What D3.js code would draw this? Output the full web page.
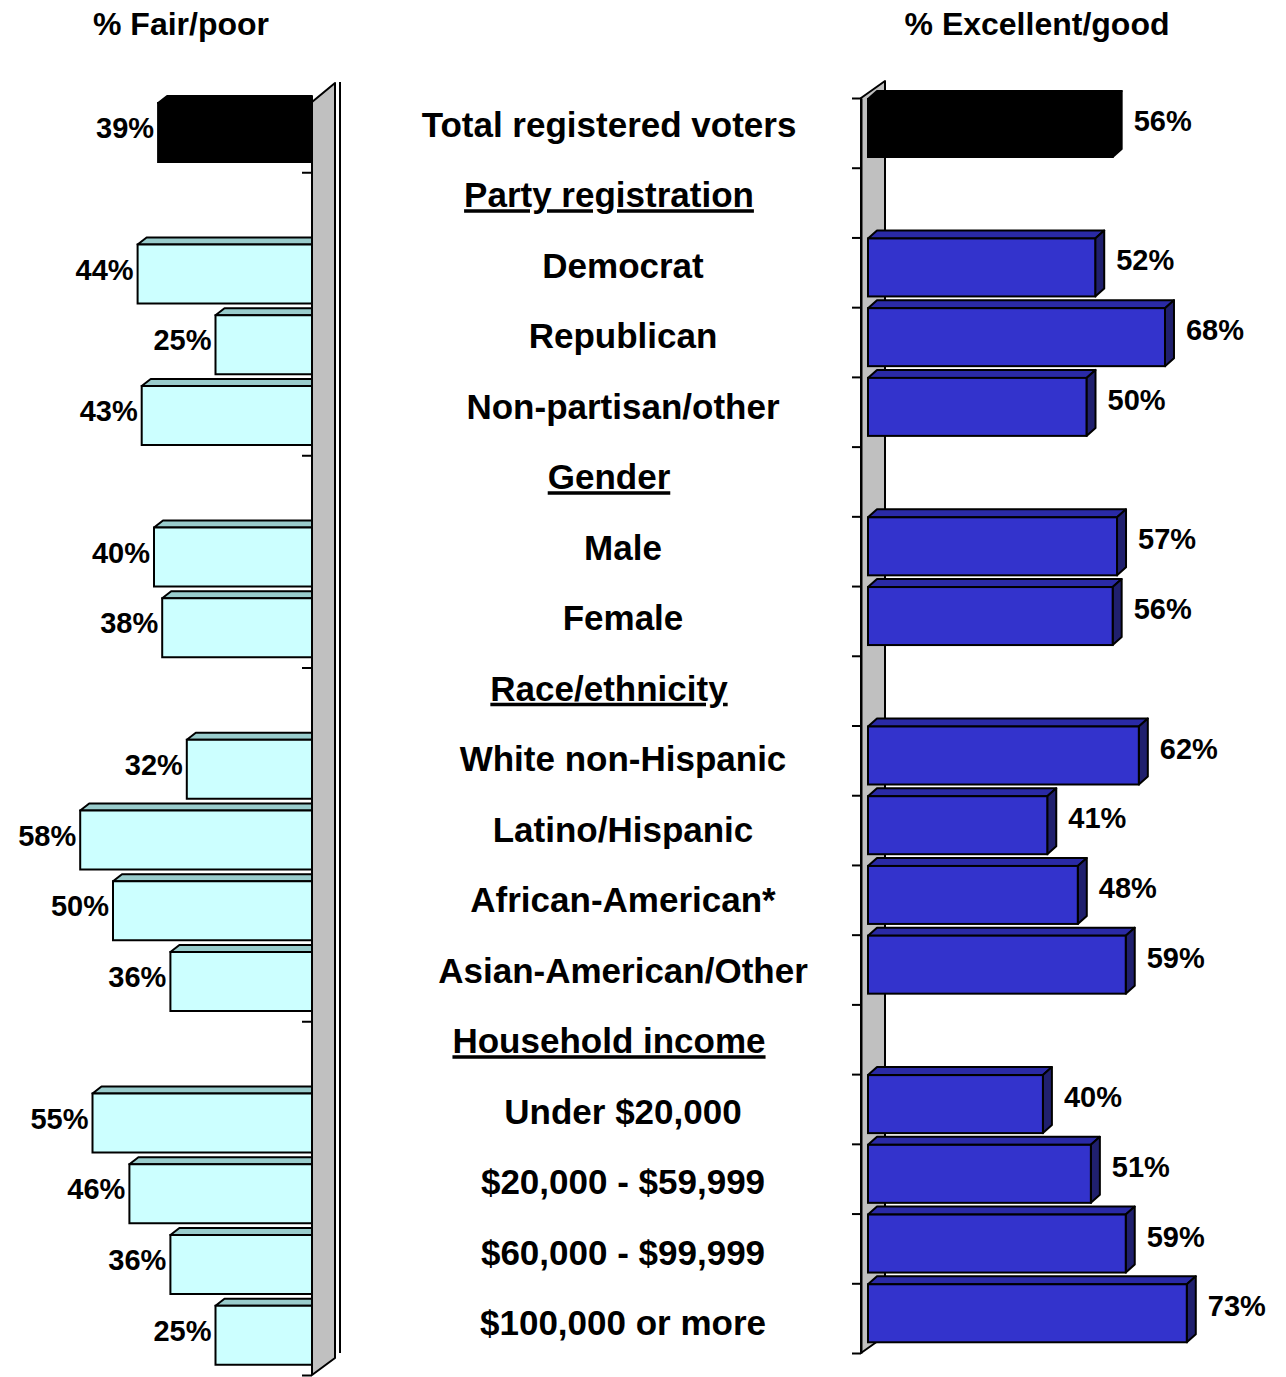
<!DOCTYPE html>
<html lang="en">
<head>
<meta charset="UTF-8">
<title>Fair/poor vs Excellent/good</title>
<script src="https://d3js.org/d3.v7.min.js"></script>
<style>
  body { margin: 0; background: #fff; }
  text { font-family: Arial, "Liberation Sans", sans-serif; font-weight: bold; fill: #000; }
</style>
</head>
<body>
<svg id="chart" width="1286" height="1377"></svg>
<script>
// rows of the chart, top to bottom
var categories = ["Total registered voters", "Party registration", "Democrat", "Republican",
  "Non-partisan/other", "Gender", "Male", "Female", "Race/ethnicity", "White non-Hispanic",
  "Latino/Hispanic", "African-American*", "Asian-American/Other", "Household income",
  "Under $20,000", "$20,000 - $59,999", "$60,000 - $99,999", "$100,000 or more"];
var headers = ["Party registration", "Gender", "Race/ethnicity", "Household income"];
// % Fair/poor (left) and % Excellent/good (right), null on header rows
var fairPoor = [39, null, 44, 25, 43, null, 40, 38, null, 32, 58, 50, 36, null, 55, 46, 36, 25];
var excellentGood = [56, null, 52, 68, 50, null, 57, 56, null, 62, 41, 48, 59, null, 40, 51, 59, 73];

var svg = d3.select("#chart");

// scales
var xL = d3.scaleLinear().domain([0, 100]).range([318, -92]);
var xR = d3.scaleLinear().domain([0, 100]).range([868.5, 1304.5]);
var yL = d3.scaleBand().domain(categories).range([101.5, 1375]);
var yR = d3.scaleBand().domain(categories).range([98, 1353]);
var yT = d3.scaleBand().domain(categories).range([89.5, 1358.5]);

var dx = 9, dy = 8;
var line = d3.line();

// column titles
svg.append("text").attr("x", 181).attr("y", 35).attr("text-anchor", "middle")
  .style("font-size", "32px").text("% Fair/poor");
svg.append("text").attr("x", 1037).attr("y", 35).attr("text-anchor", "middle")
  .style("font-size", "32px").text("% Excellent/good");

// ---------- left panel ----------
var wallL = 312;
var tickScaleL = d3.scaleLinear().domain([0, 18]).range([101.5, 1375]);
svg.append("g")
  .attr("transform", "translate(" + wallL + ",0)")
  .call(d3.axisLeft(tickScaleL).ticks(18).tickSizeInner(10).tickSizeOuter(0).tickFormat(""))
  .call(function(g) {
    g.selectAll("line").attr("stroke", "#000").attr("stroke-width", 2);
    g.select(".domain").remove();
  });

var left = svg.append("g");
categories.forEach(function(c, i) {
  var v = fairPoor[i];
  if (v == null) return;
  var x0 = xL(v), ft = yL(c) + 1.5, h = 59;
  var front = i === 0 ? "#000" : "#CCFFFF";
  var top = i === 0 ? "#000" : "#99CCCC";
  left.append("path")
    .attr("d", line([[x0, ft], [x0 + dx, ft - 7], [wallL, ft - 7], [wallL, ft]]) + "Z")
    .attr("fill", top).attr("stroke", "#000").attr("stroke-width", 2).attr("stroke-linejoin", "round");
  left.append("rect")
    .attr("x", x0).attr("y", ft).attr("width", wallL - x0).attr("height", h)
    .attr("fill", front).attr("stroke", "#000").attr("stroke-width", 2);
  left.append("text")
    .attr("x", x0 - 4).attr("y", ft + 25 + 10)
    .attr("text-anchor", "end").style("font-size", "29px")
    .text(v + "%");
});

// left wall
svg.append("path")
  .attr("d", line([[wallL, 102], [335, 83], [335, 1358], [wallL, 1375]]) + "Z")
  .attr("fill", "#C0C0C0").attr("stroke", "#000").attr("stroke-width", 2).attr("stroke-linejoin", "round");
svg.append("line").attr("x1", 340).attr("x2", 340).attr("y1", 82).attr("y2", 1353)
  .attr("stroke", "#000").attr("stroke-width", 2);

// ---------- right panel ----------
var axisR = 861;
var tickScaleR = d3.scaleLinear().domain([0, 18]).range([98, 1353]);
svg.append("path")
  .attr("d", line([[axisR, 98], [885, 81], [885, 1336], [axisR, 1353]]) + "Z")
  .attr("fill", "#C0C0C0").attr("stroke", "#000").attr("stroke-width", 2).attr("stroke-linejoin", "round");
svg.append("g")
  .attr("transform", "translate(" + axisR + ",0)")
  .call(d3.axisLeft(tickScaleR).ticks(18).tickSizeInner(9).tickSizeOuter(0).tickFormat(""))
  .call(function(g) {
    g.selectAll("line").attr("stroke", "#000").attr("stroke-width", 2);
    g.select(".domain").attr("stroke", "#000").attr("stroke-width", 2);
  });

var right = svg.append("g");
categories.forEach(function(c, i) {
  var v = excellentGood[i];
  if (v == null) return;
  var x0 = 868, x1 = xR(v), ft = yR(c) + 1, h = 58;
  var front = i === 0 ? "#000" : "#3333CC";
  var top = i === 0 ? "#000" : "#2A2AA6";
  var side = i === 0 ? "#000" : "#20206E";
  right.append("path")
    .attr("d", line([[x0, ft], [x0 + dx, ft - dy], [x1 + dx, ft - dy], [x1, ft]]) + "Z")
    .attr("fill", top).attr("stroke", "#000").attr("stroke-width", 2).attr("stroke-linejoin", "round");
  right.append("path")
    .attr("d", line([[x1, ft], [x1 + dx, ft - dy], [x1 + dx, ft + h - dy], [x1, ft + h]]) + "Z")
    .attr("fill", side).attr("stroke", "#000").attr("stroke-width", 2).attr("stroke-linejoin", "round");
  right.append("rect")
    .attr("x", x0).attr("y", ft).attr("width", x1 - x0).attr("height", h)
    .attr("fill", front).attr("stroke", "#000").attr("stroke-width", 2);
  right.append("text")
    .attr("x", x1 + dx + 12).attr("y", ft + 22 + 10)
    .style("font-size", "29px")
    .text(v + "%");
});

// ---------- category labels ----------
svg.append("g").selectAll("text")
  .data(categories)
  .enter()
  .append("text")
    .attr("x", function(d, i) { return (i === 0 || headers.indexOf(d) >= 0) ? 609 : 623; })
    .attr("y", function(d) { return yT(d) + yT.bandwidth() / 2 + 12; })
    .attr("text-anchor", "middle")
    .style("font-size", "35px")
    .style("text-decoration", function(d) { return headers.indexOf(d) >= 0 ? "underline" : null; })
    .text(function(d) { return d; });
</script>
</body>
</html>
